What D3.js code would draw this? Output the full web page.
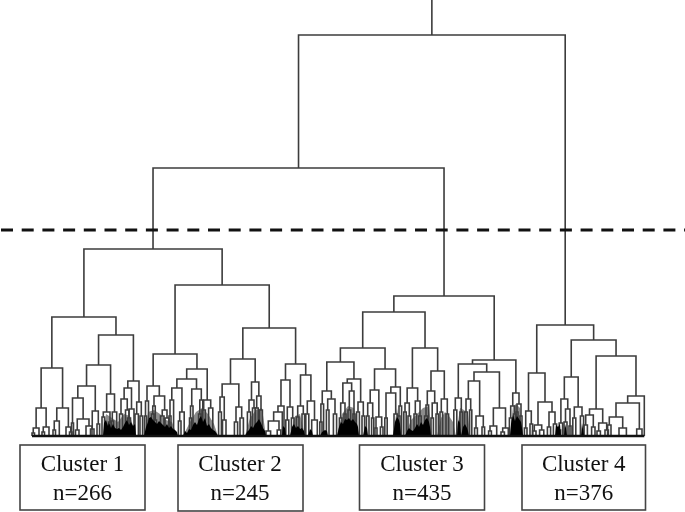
<!DOCTYPE html>
<html lang="en">
<head>
    <meta charset="UTF-8">
    <title>Dendrogram with four clusters</title>
    <script src="https://d3js.org/d3.v7.min.js"></script>
    <style>
        body { margin: 0; background: #fff; }
        svg { display: block; filter: blur(0.4px); }
        .link { fill: none; stroke: #3c3c3c; stroke-width: 1.6; }
        .box { fill: #fff; stroke: #444; stroke-width: 1.6; }
        .label { font-family: "Liberation Serif", serif; font-size: 23px; fill: #111; text-anchor: middle; }
    </style>
</head>
<body>
    <script>
        // nodes are [height, left, right], a plain number is a leaf at that position
        const cluster1 = [119,
            [68,
                [28, [8, [3, 32, 34.5], 39], [9, [4, 42, 44.5], 49]],
                [28, [15, [6, 53, 55.5], 59.3], [9, 66, [4, 69.5, 72]]]],
            [101,
                [71,
                    [50,
                        [38, [13, 71.5, 73.5], [17, [6, 75.5, 79], [10, 86, 92]]],
                        [25, [7, 90.5, 94], [12, 97, 99.6]]],
                    [42,
                        [24, [19, 102, 104.6], [14, 108.5, 111.5]],
                        [24, [15, 111, 113.6], 116.7]]],
                [55,
                    [48,
                        [37, [22, 119.5, 122.5], [26, 125.5, 129]],
                        [27, [18, 127.5, 130.5], 134]],
                    [34, [22, 135, 138.4], [20, 140, 142.6]]]]];

        const cluster2 = [151,
            [82,
                [50,
                    [35, [20, 144.5, 146.5], 148.5],
                    [40,
                        [30, [22, 151.5, 154], [16, 154, 156.5]],
                        [26, [20, 160.5, 164], [18, 165, 169]]]],
                [67,
                    [57,
                        [48,
                            [36, [20, 169, 171], 173.6],
                            [24, [15, 178.4, 181], 184.2]],
                        [47,
                            [30, [18, 189.5, 191.5], 193],
                            [36, [22, 198.6, 201], 202.8]]],
                    [36, [26, 202, 205.4], [28, 208.6, 212.8]]]],
            [108,
                [77,
                    [52,
                        [39, [24, 218.6, 221.4], [16, 222.5, 226]],
                        [29, [14, 234.4, 237.6], [18, 240, 243.4]]],
                    [54,
                        [36, [24, 247.4, 250.6], [28, 252.5, 255.5]],
                        [40, [28, 255.2, 258.2], [26, 259.6, 262.4]]]],
                [72,
                    [56,
                        [30, [24, [15, [5, 266, 270.6], [6, 277.2, 280.8]], 282.3], 284],
                        [29, [16, 285.8, 288.8], [18, 291.4, 294]]],
                    [61,
                        [30, [19, 296.4, 299], [22, 302, 304.6]],
                        [35, [22, 305.8, 308.8], [16, 311.7, 317.3]]]]]];

        const cluster3 = [140,
            [124,
                [88,
                    [74,
                        [45,
                            [32, [14, 319.8, 322], 323.6],
                            [37, [26, 326.4, 329], [22, 333.4, 336.6]]],
                        [57,
                            [53,
                                [33, [18, 339.4, 342], [22, 344, 346]],
                                [45, [26, 348, 350.6], [22, 353, 355]]],
                            [34, [24, 356.6, 359.4], [20, 362, 364.6]]]],
                    [67,
                        [46,
                            [33, [20, 366.4, 369], [18, 371.6, 373.8]],
                            [19, [8, 375, 377], [9, 380.4, 383]]],
                        [49,
                            [43, [18, 384.8, 387.2], [22, 394, 397.4]],
                            [30, [20, 398, 400], 401.6]]]],
                [88,
                    [48,
                        [33, [24, 403.8, 406.2], [20, 408, 410.6]],
                        [35, [22, 414, 416.6], [20, 418.8, 421.2]]],
                    [65,
                        [45,
                            [31, [20, 424.6, 427.4], 428.6],
                            [33, [18, 431, 433.4], [22, 436, 438.4]]],
                        [37, [24, 440, 442.6], [22, 446, 448.6]]]]],
            [76,
                [72,
                    [38, [26, 453.8, 456.8], [24, 460, 462.6]],
                    [64,
                        [55,
                            [37, [24, 464.6, 467.4], [26, 469.6, 471.8]],
                            [20, [8, 474.6, 477.4], [9, 482, 484.6]]],
                        [28, [10, [5, 488.6, 491.4], 496.7], [8, [4, 501, 504.4], 508.3]]]],
                [43,
                    [30, [18, 509.4, 512], [22, 513.6, 516]],
                    [32, [24, 516, 518], [20, 520, 522]]]]];

        const cluster4 = [111,
            [63,
                [25, [8, 524.4, 527], [12, 530, 532.6]],
                [34,
                    [11, [5, 532.6, 536], [6, 539.6, 543.8]],
                    [24, [9, 547.4, 550.6], [12, 553.4, 556.6]]]],
            [96,
                [59,
                    [37,
                        [13, [6, 557.8, 560.6], 562.6],
                        [27, [14, 564, 567], [10, 569, 571]]],
                    [29, [18, 572.8, 575.8], [20, 580.4, 583.6]]],
                [80,
                    [27,
                        [21, [11, 584, 587.4], [9, 591.6, 595]],
                        [13, [5, 597, 600.4], [6, 605, 608.4]]],
                    [40,
                        [33,
                            [19, [11, 607.6, 611], [8, 619, 626.4]],
                            [7, 636.7, 642]],
                        644.3]]]];

        const dendrogram = [401, [268, [187, cluster1, cluster2], cluster3], cluster4];

        // solid black foot of the tree, height by position
        const denseX = [103, 104, 106, 108, 109, 111, 113, 115, 117, 119, 121, 123, 125, 127, 129, 131, 133, 135, 136,
            144, 146, 148, 149, 151, 153, 155, 157, 159, 161, 163, 165, 167, 169, 171, 173, 175, 177, 178,
            183, 185, 187, 189, 191, 193, 195, 197, 199, 201, 203, 205, 207, 209, 211, 213, 215, 217, 218,
            245, 247, 249, 251, 253, 255, 257, 259, 261, 263, 265, 266,
            282, 283, 285, 286, 290, 292, 294, 296, 298, 300, 302, 304, 305, 308, 310, 312, 313,
            320, 322, 325, 327, 328, 337, 339, 341, 343, 345, 347, 349, 351, 353, 355, 357, 358, 359, 363, 365, 367, 368,
            393, 395, 397, 399, 400, 401, 405, 407, 409, 411, 413, 415, 417, 419, 421, 423, 425, 427, 429, 430, 431,
            457, 458, 459, 460, 461, 463, 465, 467, 468, 469,
            510, 511, 513, 515, 517, 519, 521, 522, 523,
            555, 556, 558, 560, 561, 564, 565, 566, 567, 581, 582, 583, 584];
        const denseHeight = [0, 13, 16, 10, 14, 8, 12, 8, 7, 8, 6, 9, 13, 16, 11, 14, 10, 12, 0,
            0, 9, 14, 18, 19, 16, 14, 12, 15, 13, 11, 9, 12, 8, 10, 7, 6, 4, 0,
            0, 5, 3, 7, 6, 11, 14, 11, 17, 20, 14, 18, 10, 12, 8, 6, 5, 2, 0,
            0, 4, 6, 10, 8, 12, 14, 17, 13, 8, 5, 0,
            0, 10, 8, 0, 0, 9, 12, 8, 10, 7, 8, 5, 0, 0, 7, 5, 0,
            0, 4, 6, 5, 0, 0, 9, 14, 12, 17, 16, 18, 15, 17, 14, 12, 9, 0, 0, 10, 8, 0,
            0, 14, 19, 16, 12, 0, 0, 5, 8, 6, 5, 8, 12, 9, 14, 11, 16, 18, 14, 9, 0,
            0, 14, 16, 13, 0, 9, 12, 8, 5, 0,
            0, 12, 21, 15, 20, 17, 14, 8, 0,
            0, 11, 9, 12, 0, 0, 12, 8, 0, 0, 13, 7, 0];

        // grey band above it, where the thin branches run together
        const greyX = [103, 106, 112, 118, 124, 130, 136,
            145, 148, 154, 160, 166, 172, 177, 183, 190, 196, 202, 208, 214, 218,
            245, 250, 256, 262, 266, 290, 295, 300, 305,
            337, 342, 348, 354, 359, 393, 397, 401, 405, 411, 417, 423, 429, 432,
            437, 441, 445, 449, 453, 456, 460, 464, 468, 470, 510, 513, 516, 520, 523];
        const greyHeight = [0, 22, 18, 14, 22, 20, 0,
            0, 24, 26, 22, 16, 14, 0, 0, 14, 24, 28, 22, 12, 0,
            0, 18, 26, 28, 0, 0, 20, 22, 0,
            0, 22, 30, 28, 0, 0, 28, 0, 0, 16, 22, 28, 30, 0,
            0, 18, 24, 20, 14, 0, 28, 26, 22, 0, 0, 30, 32, 28, 0];

        const clusterNames = ["Cluster 1", "Cluster 2", "Cluster 3", "Cluster 4"];
        const clusterSizes = [266, 245, 435, 376];

        const cutHeight = 206;
        const stemTop = 436;

        const width = 685;
        const height = 512;
        const boxes = [
            { left: 20, right: 145, bottom: 510 },
            { left: 178, right: 303, bottom: 511 },
            { left: 359.5, right: 484.5, bottom: 510 },
            { left: 522, right: 645.5, bottom: 510 }
        ];

        const x = d3.scaleLinear().domain([0, width]).range([0, width]);
        const y = d3.scaleLinear().domain([0, 436]).range([436, 0]);

        const svg = d3.select("body").append("svg")
            .attr("width", width)
            .attr("height", height);

        const root = d3.hierarchy(dendrogram, d => Array.isArray(d) ? d.slice(1) : null);
        root.eachAfter(n => {
            if (n.children) {
                n.pos = (n.children[0].pos + n.children[1].pos) / 2;
                n.h = n.data[0];
            } else {
                n.pos = n.data;
                n.h = 0;
            }
        });

        svg.append("path")
            .attr("d", d3.area().x((d, i) => x(greyX[i])).y0(y(0)).y1(d => y(d))(greyHeight))
            .attr("fill", "#8c8c8c");

        svg.append("g").selectAll("path")
            .data(root.descendants().filter(n => n.children))
            .join("path")
            .attr("class", "link")
            .attr("d", n => {
                const [a, b] = n.children;
                return `M${x(a.pos)},${y(a.h)}V${y(n.h)}H${x(b.pos)}V${y(b.h)}`;
            });

        svg.append("path")
            .attr("class", "link")
            .attr("d", `M${x(root.pos)},${y(stemTop)}V${y(root.h)}`);

        svg.append("path")
            .attr("d", d3.area().x((d, i) => x(denseX[i])).y0(y(0)).y1(d => y(d))(denseHeight))
            .attr("fill", "#000");

        // baseline under the leaves
        const leaves = d3.extent(root.leaves(), n => n.pos);
        svg.append("line")
            .attr("x1", x(leaves[0]))
            .attr("x2", x(leaves[1]))
            .attr("y1", y(0))
            .attr("y2", y(0))
            .attr("stroke", "#111")
            .attr("stroke-width", 2.5);

        svg.append("line")
            .attr("x1", 1)
            .attr("x2", width)
            .attr("y1", y(cutHeight))
            .attr("y2", y(cutHeight))
            .attr("stroke", "#111")
            .attr("stroke-width", 3.2)
            .attr("stroke-dasharray", "12,8.7");

        const box = svg.append("g").selectAll("g")
            .data(clusterNames)
            .join("g");

        box.append("rect")
            .attr("class", "box")
            .attr("x", (d, i) => boxes[i].left)
            .attr("y", 445)
            .attr("width", (d, i) => boxes[i].right - boxes[i].left)
            .attr("height", (d, i) => boxes[i].bottom - 445);

        box.append("text")
            .attr("class", "label")
            .attr("x", (d, i) => (boxes[i].left + boxes[i].right) / 2 - (i === 1 ? 0.5 : 0))
            .attr("y", 470.5)
            .text(d => d);

        box.append("text")
            .attr("class", "label")
            .attr("x", (d, i) => (boxes[i].left + boxes[i].right) / 2 - (i === 1 ? 0.5 : 0))
            .attr("y", 499.5)
            .text((d, i) => "n=" + clusterSizes[i]);
    </script>
</body>
</html>
